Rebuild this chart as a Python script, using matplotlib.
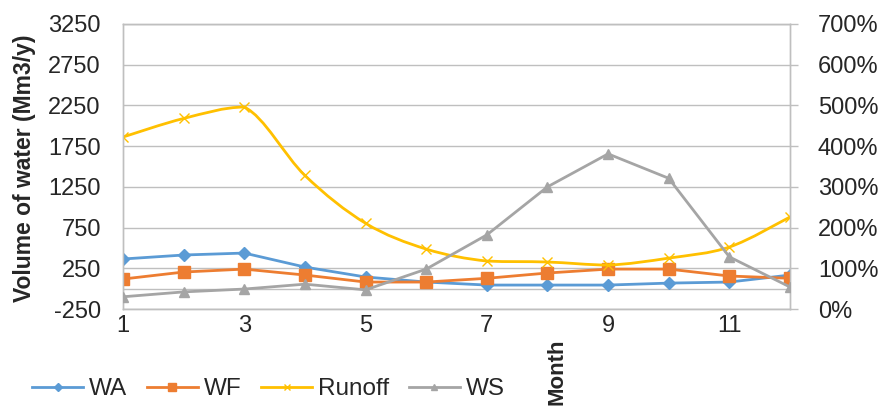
import numpy as np
import matplotlib
matplotlib.use("Agg")
import matplotlib.pyplot as plt
from matplotlib.path import Path
from matplotlib.patches import PathPatch
from matplotlib.lines import Line2D
from matplotlib.ticker import FuncFormatter

plt.rcParams['font.family'] = ['Liberation Sans', 'DejaVu Sans']
plt.rcParams['axes.unicode_minus'] = False

# monthly values
months = np.arange(1, 13)
wa = [364, 413, 437, 265, 143, 81, 44, 44, 44, 68, 81, 167]
wf = [118, 204, 240, 167, 81, 81, 127, 192, 240, 240, 155, 127]
runoff = [1862, 2090, 2230, 1390, 803, 486, 339, 327, 290, 375, 511, 880]
ws_pct = [30, 42, 49, 61, 47, 98, 182, 300, 381, 321, 128, 54]  # secondary axis, %

left_ticks = [-250, 250, 750, 1250, 1750, 2250, 2750, 3250]
right_ticks = [0, 100, 200, 300, 400, 500, 600, 700]
x_ticks = [1, 3, 5, 7, 9, 11]

c_wa = '#5B9BD5'
c_wf = '#ED7D31'
c_run = '#FFC000'
c_ws = '#A5A5A5'
c_grid = '#BFBFBF'
c_txt = '#262626'


def _smooth_path(xs, ys):
    """Smoothed line as cubic bezier segments through the points (no overshoot)"""
    pts = np.column_stack([xs, ys]).astype(float)
    n = len(pts)
    verts = [pts[0]]
    codes = [Path.MOVETO]
    for i in range(n - 1):
        p0 = pts[i - 1] if i > 0 else pts[i]
        p1 = pts[i]
        p2 = pts[i + 1]
        p3 = pts[i + 2] if i + 2 < n else pts[i + 1]
        c1 = p1 + (p2 - p0) / 6.0
        c2 = p2 - (p3 - p1) / 6.0
        lo, hi = min(p1[1], p2[1]), max(p1[1], p2[1])
        c1[1] = np.clip(c1[1], lo, hi)
        c2[1] = np.clip(c2[1], lo, hi)
        verts += [c1, c2, p2]
        codes += [Path.CURVE4] * 3
    return Path(verts, codes)


fig = plt.figure(figsize=(8.79, 4.12), dpi=100)
ax = fig.add_axes([123 / 879, 1 - 309 / 412, 667 / 879, 285 / 412])

ax.set_xlim(1, 12)
ax.set_ylim(-250, 3250)
ax.set_yticks(left_ticks)
ax.set_xticks(x_ticks)
ax.grid(axis='y', color=c_grid, linewidth=1)
ax.axhline(0, color=c_grid, linewidth=1, zorder=1)
ax.set_axisbelow(True)
for s in ax.spines.values():
    s.set_color(c_grid)
    s.set_linewidth(1)
ax.tick_params(axis='y', length=0, pad=16, labelsize=17, labelcolor=c_txt)
ax.tick_params(axis='x', length=0, pad=4, labelsize=17, labelcolor=c_txt)

lw = 2
ax.plot(months, wa, color=c_wa, lw=lw, marker='D', ms=6, zorder=3)
ax.plot(months, wf, color=c_wf, lw=lw, marker='s', ms=8, zorder=3)
ax.add_patch(PathPatch(_smooth_path(months, runoff), facecolor='none',
                       edgecolor=c_run, lw=lw, zorder=3))
ax.plot(months, runoff, ls='none', color=c_run, marker='x', ms=7, mew=1, zorder=3)

ax2 = ax.twinx()
ax2.set_ylim(0, 700)
ax2.set_yticks(right_ticks)
ax2.yaxis.set_major_formatter(FuncFormatter(lambda v, p: f'{v:.0f}%'))
for s in ax2.spines.values():
    s.set_color(c_grid)
    s.set_linewidth(1)
ax2.tick_params(axis='y', length=6, width=1, color=c_grid, pad=14, labelsize=17, labelcolor=c_txt)
ax2.plot(months, ws_pct, color=c_ws, lw=lw, marker='^', ms=7, zorder=3)

fig.text(25 / 879, 1 - 168 / 412, 'Volume of water (Mm3/y)', rotation=90, ha='center',
         va='center', fontsize=16.5, fontweight='bold', color=c_txt)
fig.text(557 / 879, 1 - 372 / 412, 'Month', rotation=90, ha='center', va='center',
         fontsize=16, fontweight='bold', color=c_txt)

handles = [
    Line2D([], [], color=c_wa, lw=lw, marker='D', ms=6),
    Line2D([], [], color=c_wf, lw=lw, marker='s', ms=8),
    Line2D([], [], color=c_run, lw=lw, marker='x', ms=7, mew=1),
    Line2D([], [], color=c_ws, lw=lw, marker='^', ms=7),
]
fig.legend(handles, ['WA', 'WF', 'Runoff', 'WS'], loc='center left',
           bbox_to_anchor=(32 / 879, 1 - 389 / 412), bbox_transform=fig.transFigure,
           ncol=4, frameon=False, borderpad=0, borderaxespad=0, fontsize=17.5,
           handlelength=2.1, handletextpad=0.25, columnspacing=0.8, markerscale=0.7,
           labelcolor=c_txt)

fig.savefig('out.png', dpi=100)
